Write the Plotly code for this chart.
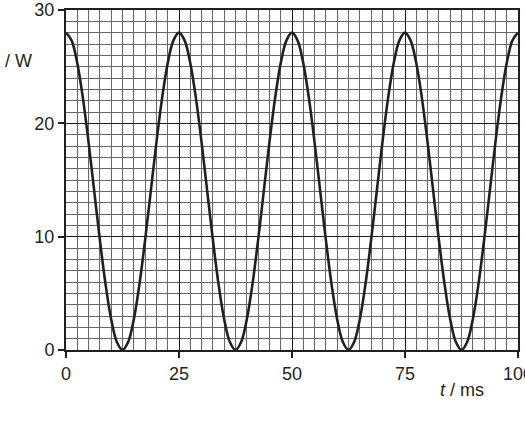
import plotly.graph_objects as go

t_ms = [0, 1.25, 2.5, 3.75, 5, 6.25, 7.5, 8.75, 10, 11.25,
        12.5, 13.75, 15, 16.25, 17.5, 18.75, 20, 21.25, 22.5, 23.75,
        25, 26.25, 27.5, 28.75, 30, 31.25, 32.5, 33.75, 35, 36.25,
        37.5, 38.75, 40, 41.25, 42.5, 43.75, 45, 46.25, 47.5, 48.75,
        50, 51.25, 52.5, 53.75, 55, 56.25, 57.5, 58.75, 60, 61.25,
        62.5, 63.75, 65, 66.25, 67.5, 68.75, 70, 71.25, 72.5, 73.75,
        75, 76.25, 77.5, 78.75, 80, 81.25, 82.5, 83.75, 85, 86.25,
        87.5, 88.75, 90, 91.25, 92.5, 93.75, 95, 96.25, 97.5, 98.75, 100]
power_w = [28, 27.3, 25.3, 22.2, 18.3, 14.0, 9.7, 5.8, 2.7, 0.7,
           0, 0.7, 2.7, 5.8, 9.7, 14.0, 18.3, 22.2, 25.3, 27.3,
           28, 27.3, 25.3, 22.2, 18.3, 14.0, 9.7, 5.8, 2.7, 0.7,
           0, 0.7, 2.7, 5.8, 9.7, 14.0, 18.3, 22.2, 25.3, 27.3,
           28, 27.3, 25.3, 22.2, 18.3, 14.0, 9.7, 5.8, 2.7, 0.7,
           0, 0.7, 2.7, 5.8, 9.7, 14.0, 18.3, 22.2, 25.3, 27.3,
           28, 27.3, 25.3, 22.2, 18.3, 14.0, 9.7, 5.8, 2.7, 0.7,
           0, 0.7, 2.7, 5.8, 9.7, 14.0, 18.3, 22.2, 25.3, 27.3, 28]

x_ticks = [0, 25, 50, 75, 100]
y_ticks = [0, 10, 20, 30]

font = dict(family="Arial, Liberation Sans, sans-serif", size=18, color="#231f20")

fig = go.Figure(go.Scatter(x=t_ms, y=power_w, mode="lines",
                           line=dict(color="#231f20", width=2.6, shape="spline"),
                           cliponaxis=True, hoverinfo="skip"))

fig.update_xaxes(range=[0, 100], tickvals=x_ticks, ticks="outside", ticklen=6,
                 tickwidth=1.5, tickcolor="#231f20", automargin=False,
                 ticklabeloverflow="allow",
                 showgrid=True, gridcolor="#231f20", gridwidth=1.2,
                 minor=dict(dtick=2.5, showgrid=True, gridcolor="#666666", gridwidth=0.8),
                 showline=True, linecolor="#231f20", linewidth=2, mirror=True,
                 zeroline=False, tickfont=font)
fig.update_yaxes(range=[0, 30], tickvals=y_ticks, ticks="outside", ticklen=6,
                 tickwidth=1.5, tickcolor="#231f20", automargin=False,
                 ticklabeloverflow="allow",
                 showgrid=True, gridcolor="#231f20", gridwidth=1.2,
                 minor=dict(dtick=1, showgrid=True, gridcolor="#666666", gridwidth=0.8),
                 showline=True, linecolor="#231f20", linewidth=2, mirror=True,
                 zeroline=False, tickfont=font)

fig.add_annotation(text="/ W", xref="paper", yref="paper", x=-0.105, y=0.85,
                   xanchor="center", yanchor="middle", showarrow=False, font=font)
fig.add_annotation(text="<i>t</i> / ms", xref="paper", yref="paper", x=0.876, y=-0.118,
                   xanchor="center", yanchor="middle", showarrow=False, font=font)

fig.update_layout(width=525, height=422, showlegend=False,
                  plot_bgcolor="white", paper_bgcolor="white",
                  margin=dict(l=66, r=7, t=10, b=72))
# the page body has a default 8px margin; drop it so the chart sits at the corner
fig.write_html("out.html", config={"displayModeBar": False},
               post_script="document.body.style.margin='0';")
